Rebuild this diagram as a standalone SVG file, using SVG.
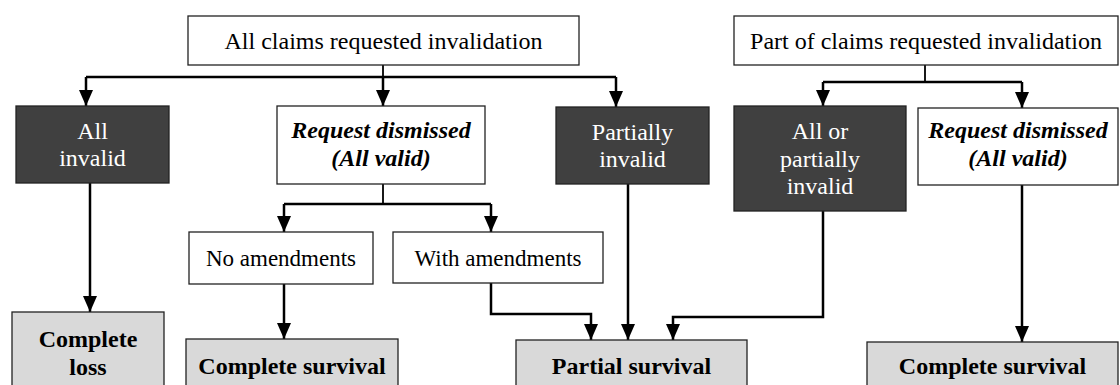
<svg xmlns="http://www.w3.org/2000/svg" width="1120" height="385" viewBox="0 0 1120 385">
<defs>
<marker id="ah" viewBox="0 0 16 14" refX="16" refY="7" markerWidth="16" markerHeight="14" markerUnits="userSpaceOnUse" orient="auto">
<path d="M0,0 L16,7 L0,14 z" fill="#000"/>
</marker>
<style>
.w{fill:#fff;stroke:#222;stroke-width:1.3}
.d{fill:#404040;stroke:#222;stroke-width:1.3}
.g{fill:#d9d9d9;stroke:#222;stroke-width:1.3}
text{font-family:"Liberation Serif","Times New Roman",serif;font-size:24px;text-anchor:middle;fill:#000}
.wt{fill:#fff}
.bi{font-weight:bold;font-style:italic}
.b{font-weight:bold}
.s{font-size:23px}
.c{fill:none;stroke:#000;stroke-width:2.5}
.a{marker-end:url(#ah)}
.t{stroke-width:1.8}
</style>
</defs>
<g id="connectors">
<path class="c t" d="M383,65 V77"/>
<path class="c" d="M86,77 H616"/>
<path class="c a" d="M86,77 V106"/>
<path class="c a" d="M383,77 V106"/>
<path class="c a" d="M616,77 V107"/>
<path class="c t" d="M925,65 V82"/>
<path class="c" d="M823,82 H1022"/>
<path class="c a" d="M823,82 V106"/>
<path class="c a" d="M1022,82 V108"/>
<path class="c a" d="M90,183 V312"/>
<path class="c t" d="M383,184 V204"/>
<path class="c" d="M284,204 H491"/>
<path class="c a" d="M284,204 V232"/>
<path class="c a" d="M491,204 V232"/>
<path class="c a" d="M284,284 V339"/>
<path class="c a" d="M491,283 V314 H591 V340"/>
<path class="c a" d="M628,184 V340"/>
<path class="c a" d="M823,211 V317 H673 V340"/>
<path class="c a" d="M1022,185 V342"/>
</g>
<g id="top1"><rect class="w" x="188" y="16" width="391" height="49"/><text x="383.5" y="49">All claims requested invalidation</text></g>
<g id="top2"><rect class="w" x="734" y="16" width="384" height="49"/><text x="926" y="49">Part of claims requested invalidation</text></g>
<g id="allInvalid"><rect class="d" x="16" y="106" width="153" height="77"/><text class="wt" x="92.5" y="139">All</text><text class="wt" x="92.5" y="166">invalid</text></g>
<g id="reqDismissed1"><rect class="w" x="277" y="106" width="208" height="78"/><text class="bi" x="381" y="138">Request dismissed</text><text class="bi" x="381" y="166">(All valid)</text></g>
<g id="partInvalid"><rect class="d" x="556" y="107" width="153" height="77"/><text class="wt" x="632.5" y="140">Partially</text><text class="wt" x="632.5" y="167">invalid</text></g>
<g id="allOrPart"><rect class="d" x="734" y="106" width="172" height="105"/><text class="wt" x="820" y="139">All or</text><text class="wt" x="820" y="166.5">partially</text><text class="wt" x="820" y="194">invalid</text></g>
<g id="reqDismissed2"><rect class="w" x="918" y="108" width="200" height="77"/><text class="bi" x="1018" y="138">Request dismissed</text><text class="bi" x="1018" y="166">(All valid)</text></g>
<g id="noAmend"><rect class="w" x="189" y="232" width="184" height="52"/><text class="s" x="281" y="266">No amendments</text></g>
<g id="withAmend"><rect class="w" x="393" y="232" width="210" height="51"/><text class="s" x="498" y="266">With amendments</text></g>
<g id="completeLoss"><rect class="g" x="12" y="312" width="152" height="80"/><text class="b" x="88" y="347">Complete</text><text class="b" x="88" y="375">loss</text></g>
<g id="completeSurvival1"><rect class="g" x="186" y="339" width="212" height="52"/><text class="b" x="292" y="374">Complete survival</text></g>
<g id="partialSurvival"><rect class="g" x="516" y="340" width="231" height="52"/><text class="b" x="631.5" y="374">Partial survival</text></g>
<g id="completeSurvival2"><rect class="g" x="867" y="342" width="251" height="52"/><text class="b" x="992.5" y="374">Complete survival</text></g>
</svg>
